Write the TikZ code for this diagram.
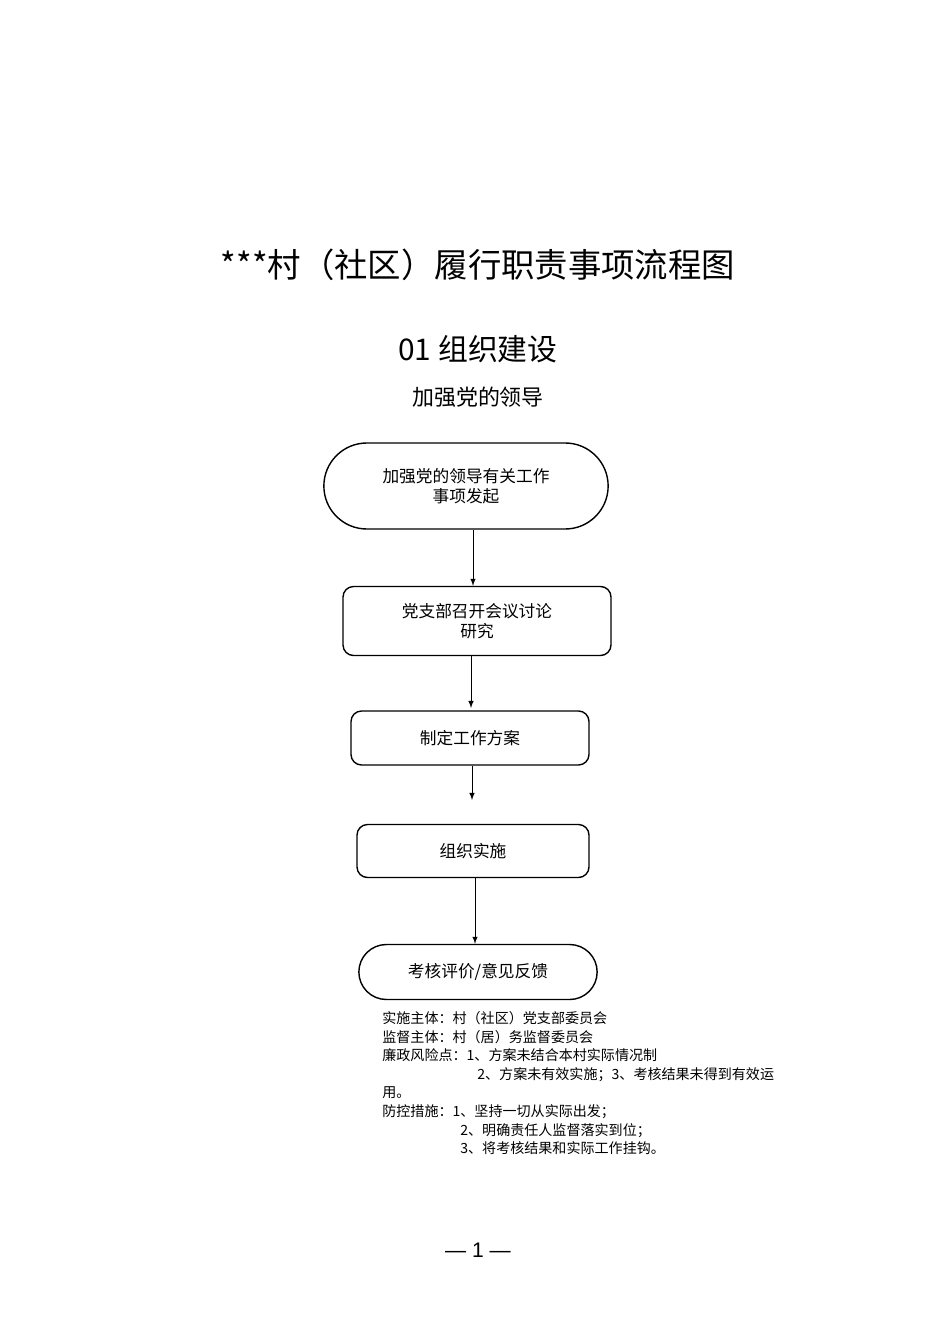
\documentclass[tikz,border=0pt]{standalone}
\usepackage{fontspec}
\setmainfont{Liberation Sans}
\newfontfamily\cjk{Noto Sans CJK SC}
\usetikzlibrary{shapes.misc}
\tikzset{
  stepbox/.style={rectangle,rounded corners=6pt,draw,thick,align=center,font=\cjk\fontsize{9.5}{11.5}\selectfont},
  endbox/.style={rounded rectangle,draw,thick,align=center,font=\cjk\fontsize{9.5}{11.5}\selectfont},
  flow/.style={-latex,thin}
}
\begin{document}
\begin{tikzpicture}[x=0.02cm,y=-0.02cm]
  \useasboundingbox (0,0) rectangle (950,1344);
  \node[font=\cjk\fontsize{19}{22}\selectfont] (title) at (478,265) {***村（社区）履行职责事项流程图};
  \node[font=\cjk\fontsize{17}{20}\selectfont] (sub) at (478,349) {01 组织建设};
  \node[font=\cjk\fontsize{12.5}{15}\selectfont] (lead) at (478,397) {加强党的领导};
  \node[endbox,minimum width=296*0.02cm,minimum height=86*0.02cm] (a) at (466,486) {加强党的领导有关工作\\事项发起};
  \node[stepbox,minimum width=268*0.02cm,minimum height=69*0.02cm] (b) at (477,621) {党支部召开会议讨论\\研究};
  \node[stepbox,minimum width=238*0.02cm,minimum height=54*0.02cm] (c) at (470,738) {制定工作方案};
  \node[stepbox,minimum width=232*0.02cm,minimum height=53*0.02cm] (d) at (473,851) {组织实施};
  \node[endbox,minimum width=250*0.02cm,minimum height=55*0.02cm] (e) at (478,972) {考核评价/意见反馈};
  \coordinate (cend) at (472,800);
  \draw[flow] (a.south -| 473,0) -- (b.north -| 473,0);
  \draw[flow] (b.south -| 471,0) -- (471,708);
  \draw[flow] (c.south -| 472,0) -- (cend);
  \draw[flow] (d.south -| 475,0) -- (e.north -| 475,0);
  % notes
  \node[anchor=north west,align=left,inner sep=0,font=\cjk\fontsize{8}{10.6}\selectfont] (notes) at (382,1011)
    {实施主体：村（社区）党支部委员会\\
     监督主体：村（居）务监督委员会\\
     廉政风险点：1、方案未结合本村实际情况制\\
     \hspace*{95\dimexpr0.02cm\relax}2、方案未有效实施；3、考核结果未得到有效运\\
     用。\\
     防控措施：1、坚持一切从实际出发；\\
     \hspace*{78\dimexpr0.02cm\relax}2、明确责任人监督落实到位；\\
     \hspace*{78\dimexpr0.02cm\relax}3、将考核结果和实际工作挂钩。};
  \node[font=\fontsize{12}{14}\selectfont] (page) at (478,1250) {— 1 —};
\end{tikzpicture}
\end{document}
